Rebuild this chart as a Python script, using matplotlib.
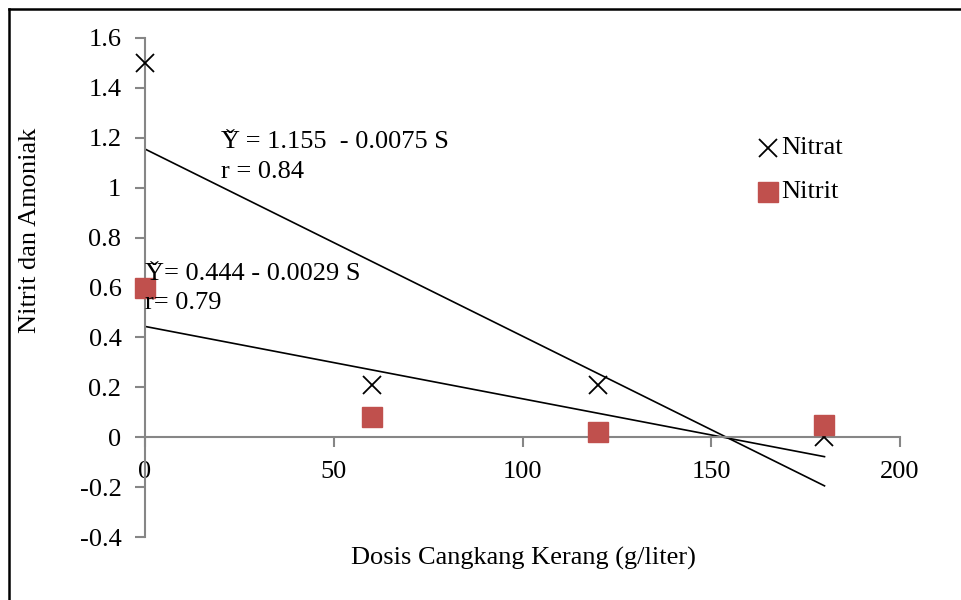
import matplotlib.pyplot as plt
import numpy as np
from matplotlib.lines import Line2D

# data
dosis = [0, 60, 120, 180]
nitrat = [1.5, 0.21, 0.21, 0.0]
nitrit = [0.6, 0.08, 0.02, 0.05]
# linear trend lines (intercept, slope)
fit_nitrat = (1.155, -0.0075)
fit_nitrit = (0.444, -0.0029)

plt.rcParams['font.family'] = ['Liberation Serif', 'DejaVu Serif']
fs = 19
gray = '#868686'
red = '#C0504D'
W, H = 962, 600

fig = plt.figure(figsize=(9.62, 6), dpi=100)
ax = fig.add_axes([145/W, 63/H, 755/W, 499/H])

xs = np.array([dosis[0], dosis[-1]])
ax.plot(xs, fit_nitrat[0] + fit_nitrat[1]*xs, color='k', lw=1.2, zorder=2)
ax.plot(xs, fit_nitrit[0] + fit_nitrit[1]*xs, color='k', lw=1.2, zorder=2)
ax.plot(dosis, nitrat, 'x', color='k', ms=13, mew=1.3, ls='none', zorder=3, clip_on=False)
ax.plot(dosis, nitrit, 's', color=red, ms=15, ls='none', zorder=3, clip_on=False)

ax.set_xlim(0, 200)
ax.set_ylim(-0.4, 1.6)
ax.set_xticks([0, 50, 100, 150, 200])
ax.set_xticklabels(['0', '50', '100', '150', '200'])
ax.set_yticks(np.arange(-0.4, 1.61, 0.2))
ax.set_yticklabels(['-0.4', '-0.2', '0', '0.2', '0.4', '0.6', '0.8', '1', '1.2', '1.4', '1.6'])

for s in ['top', 'right']:
    ax.spines[s].set_visible(False)
ax.spines['bottom'].set_position(('data', 0))
for s in ['left', 'bottom']:
    ax.spines[s].set_color(gray)
    ax.spines[s].set_linewidth(1.5)
ax.tick_params(axis='both', color=gray, width=1.5, length=7, labelsize=fs, direction='out')
ax.tick_params(axis='x', pad=10)
ax.tick_params(axis='y', pad=10)

fig.text(523/W, 1 - 558/H, 'Dosis Cangkang Kerang (g/liter)', fontsize=fs,
         ha='center', va='center')
fig.text(30/W, 1 - 230/H, 'Nitrit dan Amoniak', fontsize=fs, rotation=90,
         ha='center', va='center')

def eq_text(x, ybase, s):
    # Y with a caron drawn on top
    fig.text(x/W, 1 - ybase/H, s, fontsize=fs, va='baseline')
    fig.text((x + 9.5)/W, 1 - (ybase - 1)/H, '\u02c7', fontsize=fs, ha='center', va='baseline')

eq_text(221, 148, 'Y = 1.155  - 0.0075 S')
fig.text(221/W, 1 - 178/H, 'r = 0.84', fontsize=fs, va='baseline')
eq_text(145, 280, 'Y= 0.444 - 0.0029 S')
fig.text(145/W, 1 - 309/H, 'r= 0.79', fontsize=fs, va='baseline')

# legend
fig.add_artist(Line2D([768/W], [1 - 148/H], marker='x', color='k', ms=13, mew=1.3, ls='none'))
fig.add_artist(Line2D([768/W], [1 - 192/H], marker='s', color=red, ms=15, ls='none'))
fig.text(781/W, 1 - 148/H, 'Nitrat', fontsize=fs, va='center')
fig.text(781/W, 1 - 192/H, 'Nitrit', fontsize=fs, va='center')

# outer frame (left and top visible)
fig.add_artist(Line2D([8.5/W, 8.5/W], [0, 1 - 8.5/H], color='k', lw=1.8))
fig.add_artist(Line2D([8.5/W, 1], [1 - 8.5/H, 1 - 8.5/H], color='k', lw=1.8))

fig.savefig('out.png', dpi=100)
